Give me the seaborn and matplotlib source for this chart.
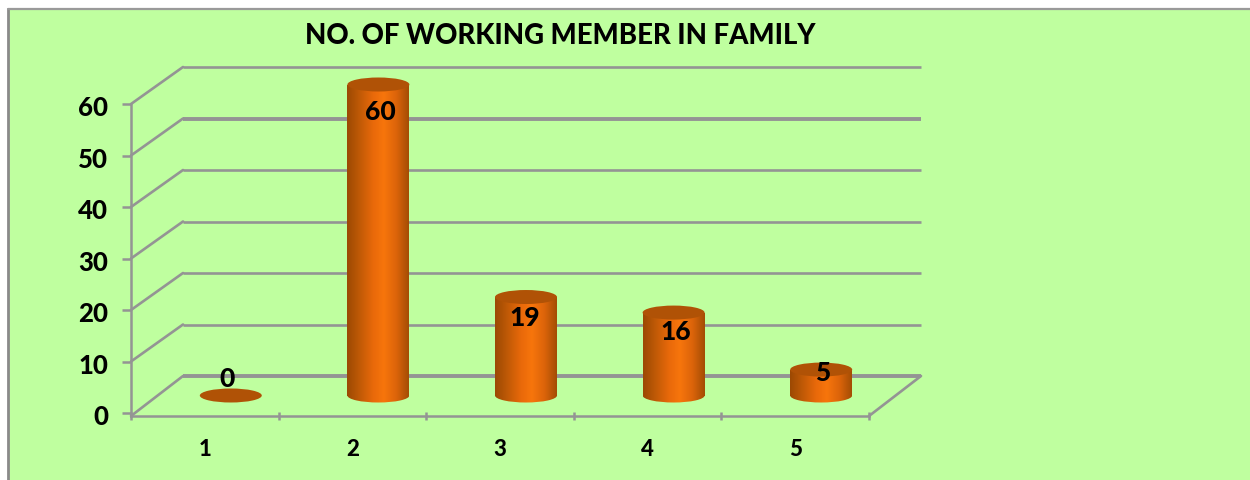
import matplotlib
matplotlib.use("Agg")
import matplotlib.pyplot as plt
from matplotlib.colors import LinearSegmentedColormap
from matplotlib.patches import Ellipse, Rectangle
from matplotlib.transforms import ScaledTranslation
import numpy as np
import pandas as pd
import seaborn as sns

TITLE = "NO. OF WORKING MEMBER IN FAMILY"
categories = ["1", "2", "3", "4", "5"]
values = [0, 60, 19, 16, 5]
y_ticks = [0, 10, 20, 30, 40, 50, 60]

W, H = 1250, 481
GREEN = "#BFFF9F"
GRAY = "#949494"
CAP = "#B05206"
FONT = "Lato"
HEAVY = 900

sns.set_theme(style="white")
plt.rcParams["font.family"] = [FONT, "DejaVu Sans"]
plt.rcParams["font.weight"] = "bold"

fig = plt.figure(figsize=(W / 100, H / 100), dpi=100, facecolor="white")


def axes_px(x0, x1, ytop, ybottom):
    return fig.add_axes([x0 / W, 1 - ybottom / H, (x1 - x0) / W, (ybottom - ytop) / H])


fig.patches.append(Rectangle((8 / W, 0), 1 - 8 / W, 1 - 10 / H, transform=fig.transFigure,
                             facecolor=GREEN, edgecolor="none", zorder=-5))
fig.add_artist(plt.Line2D([8 / W, 8 / W], [0, 1 - 10 / H], color="#8a8a8a", lw=2.0))
fig.add_artist(plt.Line2D([8 / W, 1], [1 - 10 / H, 1 - 10 / H], color="#9a9a9a", lw=1.6))

# Front plane of the pseudo-3D box: value axis and category axis
px_per_unit = 309 / 60
front_bottom = 417
ax = axes_px(131, 869, 105, front_bottom)
ax.patch.set_alpha(0)
ax.set_xlim(0, 5)
ax.set_ylim(-(front_bottom - 414) / px_per_unit, 60)
for side in ("top", "right"):
    ax.spines[side].set_visible(False)
for side in ("left", "bottom"):
    ax.spines[side].set_color(GRAY)
    ax.spines[side].set_linewidth(1.8)
ax.set_yticks(y_ticks)
ax.set_yticklabels([str(v) for v in y_ticks], fontsize=18.5, fontweight=HEAVY, color="black")
ax.set_xticks(range(len(categories) + 1))
ax.set_xticklabels([])
ax.set_xticks([i + 0.5 for i in range(len(categories))], minor=True)
ax.set_xticklabels(categories, minor=True, fontsize=16, fontweight=HEAVY, color="black")
ax.tick_params(axis="y", left=True, length=6.5, width=1.8, color=GRAY, pad=10)
ax.tick_params(axis="x", which="major", bottom=True, length=6, width=1.8, color=GRAY, direction="inout")
ax.tick_params(axis="x", which="minor", bottom=False, length=0, pad=16)
label_shift = ScaledTranslation(0, -1.5 / 100, fig.dpi_scale_trans)
for lab in ax.get_yticklabels():
    lab.set_transform(lab.get_transform() + label_shift)

# Back wall and floor, shifted from the front plane by the depth offset
back = ax.transData + ScaledTranslation(52 / 100, 37 / 100, fig.dpi_scale_trans)
for v in y_ticks:
    heavy = v in (0, 50)
    lw = 2.8 if heavy else 1.9
    ax.plot([0, 5], [v, v], transform=back, color=GRAY, lw=lw, clip_on=False, zorder=1,
            solid_capstyle="butt")
    x_px, y_px = ax.transData.transform((0, v))
    if v == 0:
        y_px = fig.bbox.height - front_bottom
    bx, by = back.transform((0, v))
    fig.add_artist(plt.Line2D([x_px / W, bx / W], [y_px / H, by / H], color=GRAY, lw=1.9, zorder=1))
x_px, y_px = ax.transData.transform((5, -(front_bottom - 414) / px_per_unit))
bx, by = back.transform((5, 0))
fig.add_artist(plt.Line2D([x_px / W, bx / W], [y_px / H, by / H], color=GRAY, lw=1.9, zorder=1))

# Bars
bar_ax = axes_px(157, 895, 85.5, 396.5)
bar_ax.patch.set_alpha(0)
df = pd.DataFrame({"category": categories, "value": values})
BAR_W = 0.42
sns.barplot(data=df, x="category", y="value", order=categories, width=BAR_W,
            color=CAP, saturation=1, ax=bar_ax, zorder=2)
bar_ax.set_xlim(-0.5, 4.5)
bar_ax.set_ylim(0, 60)
bar_ax.axis("off")

cyl = LinearSegmentedColormap.from_list(
    "cyl",
    [(0, "#9C4903"), (0.18, "#BC5806"), (0.42, "#E9690A"), (0.6, "#F7750C"),
     (0.8, "#DC640A"), (1, "#A44D04")],
)
shade = np.linspace(0, 1, 128).reshape(1, -1)
cap_h = 14 / (311 / 60)
for patch, v in zip(bar_ax.patches, values):
    x0 = patch.get_x()
    w = patch.get_width()
    patch.set_visible(False)
    xc = x0 + w / 2
    if v > 0:
        base = Ellipse((xc, 0), w, cap_h, transform=bar_ax.transData)
        body = Rectangle((x0, 0), w, v, transform=bar_ax.transData)
        for clip, ext in ((base, (x0, x0 + w, -cap_h / 2, 0.1)), (body, (x0, x0 + w, 0, v))):
            im = bar_ax.imshow(shade, cmap=cyl, aspect="auto", extent=ext, zorder=3, interpolation="bilinear")
            im.set_clip_box(fig.bbox)
            im.set_clip_path(clip)
    bar_ax.add_patch(Ellipse((xc, v), w, cap_h, facecolor=CAP, edgecolor="none", zorder=4, clip_on=False))
bar_ax.set_xlim(-0.5, 4.5)
bar_ax.set_ylim(0, 60)

# Value labels, offsets (pixels) as placed by hand in the original
label_dx = [-4, 2, -1, 2, 1]
label_dy = [17, -26, -20, -18, -2]
for i, v in enumerate(values):
    bar_ax.annotate(str(v), (i, v), xytext=(label_dx[i], label_dy[i]), textcoords="offset pixels",
                    ha="center", va="center", fontsize=19, fontweight=HEAVY, color="black",
                    zorder=6, annotation_clip=False)

fig.text(560 / W, 1 - 35.5 / H, TITLE, ha="center", va="center", fontsize=19.8,
         fontweight=HEAVY, color="black")

fig.savefig("out.png", dpi=100, facecolor=fig.get_facecolor())
